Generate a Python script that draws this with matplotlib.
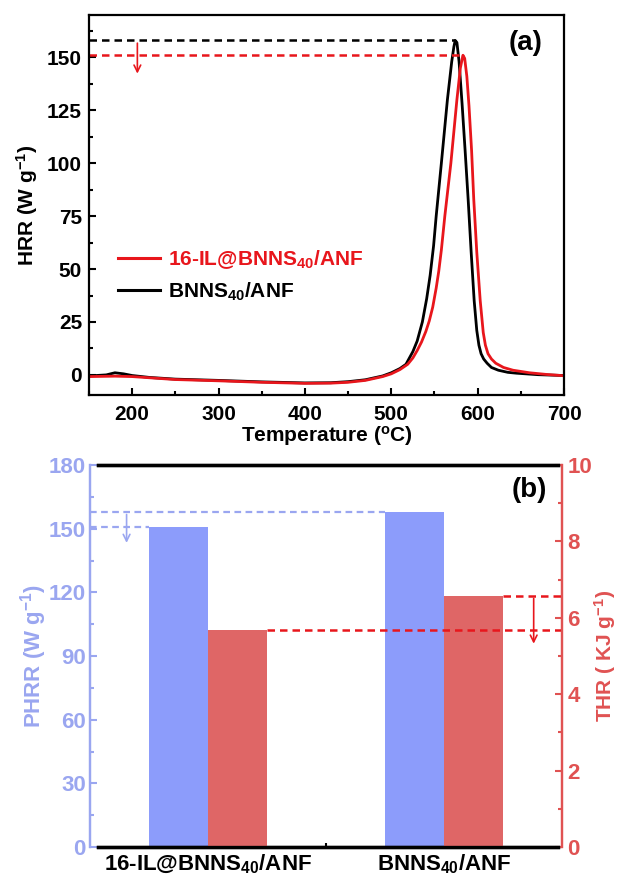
import numpy as np
import matplotlib
matplotlib.use("Agg")
import matplotlib.pyplot as plt
from matplotlib.ticker import MultipleLocator, FixedLocator

plt.rcParams['font.family'] = ['Liberation Sans', 'DejaVu Sans']
plt.rcParams['font.weight'] = 'bold'
plt.rcParams['axes.labelweight'] = 'bold'
plt.rcParams['mathtext.fontset'] = 'custom'
plt.rcParams['mathtext.rm'] = 'Liberation Sans:bold'
plt.rcParams['mathtext.it'] = 'Liberation Sans:bold'
plt.rcParams['mathtext.bf'] = 'Liberation Sans:bold'

# panel (a): HRR curves
temp_black = [150, 170, 180, 190, 200, 220, 250, 300, 350, 400, 430, 450, 470, 490, 500,
              510, 517, 525, 530, 536, 541, 545, 549, 552, 558, 565, 570, 572.5, 574, 576,
              578.5, 582, 585.5, 589, 592.5, 596, 599, 601.5, 604, 607, 611, 616, 624, 635,
              645, 670, 700]
hrr_black = [-0.5, 0, 1.0, 0.5, -0.3, -1.2, -2.0, -2.6, -3.3, -3.8, -3.7, -3.2, -2.3, -0.5, 1.0,
             3, 5, 11, 16, 25, 36, 47, 61, 75, 100, 130, 148, 155, 158, 157,
             148, 128, 106, 83, 58, 35, 21, 14, 10, 7.5, 5.5, 3.5, 2.2, 1.2,
             0.8, 0.1, -0.3]

temp_red = [150, 180, 200, 250, 300, 350, 400, 430, 450, 470, 490, 500, 510, 519, 525,
            530, 535, 540, 544, 548, 552, 555, 558, 562, 569, 576, 580, 583, 585, 587.5,
            590, 593, 595.5, 599, 603, 606.5, 609, 612, 616, 621, 630, 641, 660, 680, 700]
hrr_red = [-0.8, -0.6, -0.8, -2.2, -2.8, -3.5, -4.0, -3.9, -3.5, -2.6, -0.8, 0.5, 2.5, 5, 8,
           11.5, 15.5, 20.5, 25.5, 32, 41, 49, 59, 75, 100, 130, 145, 151, 149.5, 141,
           127, 106, 83, 58, 35, 20, 14, 10, 7.5, 5.5, 3.5, 2.2, 1.0, 0.2, -0.4]

# panel (b): bar values
samples = ['16-IL@BNNS$_{40}$/ANF', 'BNNS$_{40}$/ANF']
phrr = [151, 158]
thr = [5.69, 6.58]

RED = '#e8161c'
BLUE_BAR = '#8c9cfb'
BLUE_AX = '#9aa6f0'
RED_BAR = '#df6666'
RED_AX = '#e05252'

fig = plt.figure(figsize=(6.17, 8.77), dpi=100)
ax = fig.add_axes([89 / 617, 1 - 395 / 877, 475 / 617, 380 / 877])

ax.plot(temp_black, hrr_black, color='black', lw=2.0, label='BNNS$_{40}$/ANF')
ax.plot(temp_red, hrr_red, color=RED, lw=2.0, label='16-IL@BNNS$_{40}$/ANF')

# dashed peak markers
ib = int(np.argmax(hrr_black))
ir = int(np.argmax(hrr_red))
ax.plot([150, temp_black[ib]], [hrr_black[ib]] * 2, color='black', lw=1.8, ls=(0, (3, 2)))
ax.plot([150, temp_red[ir]], [hrr_red[ir]] * 2, color=RED, lw=1.8, ls=(0, (3, 2)))
ax.annotate('', xy=(206, 141), xytext=(206, hrr_black[ib]),
            arrowprops=dict(arrowstyle='->', color=RED, lw=1.2, mutation_scale=12))

ax.set_xlim(150, 700)
ax.set_ylim(-9.5, 170)
ax.xaxis.set_major_locator(MultipleLocator(100))
ax.xaxis.set_minor_locator(MultipleLocator(50))
ax.yaxis.set_major_locator(MultipleLocator(25))
ax.yaxis.set_minor_locator(MultipleLocator(12.5))
ax.tick_params(which='both', direction='in', width=1.5, labelsize=15)
ax.tick_params(which='major', length=5)
ax.tick_params(which='minor', length=3)
ax.tick_params(axis='x', pad=7)
ax.tick_params(axis='y', pad=5)
for s in ax.spines.values():
    s.set_linewidth(1.6)
ax.set_xlabel('Temperature ($^{o}$C)', fontsize=15, labelpad=0)
ax.set_ylabel('HRR (W g$^{-1}$)', fontsize=15, labelpad=5)
ax.text(0.92, 0.925, '(a)', transform=ax.transAxes, fontsize=20, ha='center', va='center')

handles, labels = ax.get_legend_handles_labels()
leg = ax.legend(handles[::-1], labels[::-1], loc='center left', bbox_to_anchor=(0.022, 0.315),
                frameon=False, fontsize=15, handlelength=2.0, handletextpad=0.4, labelspacing=0.45)
for t, c in zip(leg.get_texts(), [RED, 'black']):
    t.set_color(c)
for h in leg.get_lines():
    h.set_linewidth(2.2)

# panel (b)
bx = fig.add_axes([90 / 617, 1 - 847 / 877, 472 / 617, 382 / 877])
bx2 = bx.twinx()
x = np.arange(1, len(samples) + 1)
w = 0.25
bx.bar(x - w / 2, phrr, w, color=BLUE_BAR)
bx2.bar(x + w / 2, thr, w, color=RED_BAR)

bx.set_xlim(0.5, 2.5)
bx.set_ylim(0, 180)
bx2.set_ylim(0, 10)

dash = (0, (3, 2))
bx.plot([0.5, x[1] - w], [phrr[1]] * 2, color=BLUE_AX, lw=1.6, ls=dash)
bx.plot([0.5, x[0] - w], [phrr[0]] * 2, color=BLUE_AX, lw=1.6, ls=dash)
bx.annotate('', xy=(0.655, 142), xytext=(0.655, phrr[1]),
            arrowprops=dict(arrowstyle='->', color=BLUE_AX, lw=1.2, mutation_scale=12))
bx2.plot([x[1] + w, 2.5], [thr[1]] * 2, color=RED, lw=1.8, ls=dash)
bx2.plot([x[0] + w, 2.5], [thr[0]] * 2, color=RED, lw=1.8, ls=dash)
bx2.annotate('', xy=(2.38, 5.25), xytext=(2.38, thr[1]),
             arrowprops=dict(arrowstyle='->', color=RED, lw=1.2, mutation_scale=12))

bx.set_xticks(x)
bx.set_xticklabels(samples, fontsize=16)
bx.xaxis.set_minor_locator(FixedLocator([1.5]))
bx.tick_params(axis='x', which='major', length=0, pad=4)
bx.tick_params(axis='x', which='minor', direction='in', length=3, width=1.5)

bx.yaxis.set_major_locator(MultipleLocator(30))
bx.yaxis.set_minor_locator(MultipleLocator(15))
bx.tick_params(axis='y', which='both', direction='in', colors=BLUE_AX, width=1.5, labelsize=16, pad=3)
bx.tick_params(axis='y', which='major', length=5)
bx.tick_params(axis='y', which='minor', length=3)
bx2.yaxis.set_major_locator(MultipleLocator(2))
bx2.yaxis.set_minor_locator(MultipleLocator(1))
bx2.tick_params(axis='y', which='both', direction='in', colors=RED_AX, width=1.5, labelsize=16, pad=4)
bx2.tick_params(axis='y', which='major', length=5)
bx2.tick_params(axis='y', which='minor', length=3)

for a in (bx, bx2):
    a.spines['top'].set_color('black')
    a.spines['bottom'].set_color('black')
    a.spines['left'].set_color(BLUE_AX)
    a.spines['right'].set_color(RED_AX)
    a.spines['top'].set_linewidth(2.4)
    a.spines['bottom'].set_linewidth(2.4)
    a.spines['top'].set_bounds(0.534, 2.483)
    a.spines['bottom'].set_bounds(0.534, 2.483)
    a.spines['left'].set_linewidth(1.6)
    a.spines['right'].set_linewidth(1.6)

bx.set_ylabel('PHRR (W g$^{-1}$)', color=BLUE_AX, fontsize=16, labelpad=0)
bx2.set_ylabel('THR ( KJ g$^{-1}$)', color=RED_AX, fontsize=15, labelpad=0)
bx.text(0.93, 0.934, '(b)', transform=bx.transAxes, fontsize=20, ha='center', va='center')

fig.savefig('out.png', dpi=100)
